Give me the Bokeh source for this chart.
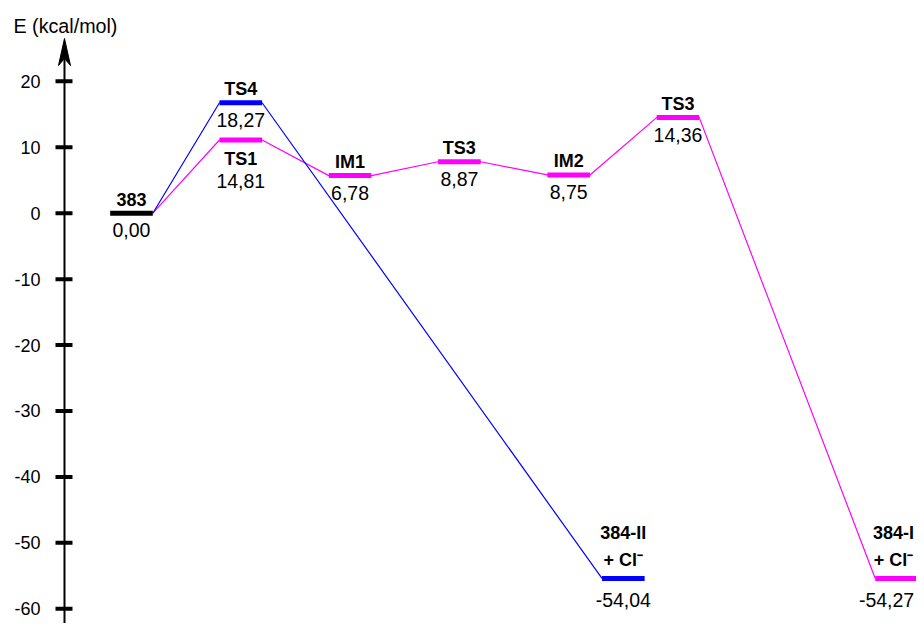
from bokeh.plotting import figure
from bokeh.models import Range1d
from bokeh.core.properties import value
from bokeh.embed import file_html
from bokeh.resources import INLINE

# ---------------- data ----------------
states = ["383", "TS4", "TS1", "IM1", "TS3", "IM2", "TS3", "384-II", "384-I"]
step = [0, 1, 1, 2, 3, 4, 5, 4.5, 7]
level = [0.0, 16.75, 11.1, 5.7, 7.8, 5.8, 14.5, -55.4, -55.4]
energy_labels = ["0,00", "18,27", "14,81", "6,78", "8,87", "8,75", "14,36", "-54,04", "-54,27"]
second_line = ["", "", "", "", "", "", "", "+ Cl\u207b", "+ Cl\u207b"]
bar_colors = ["#000000", "#0000FF", "#FF00FF", "#FF00FF", "#FF00FF", "#FF00FF", "#FF00FF", "#0000FF", "#FF00FF"]
placement = ["above", "above", "below", "above", "above", "above", "above", "stack", "stack"]
blue_path = [0, 1, 7]
magenta_path = [0, 2, 3, 4, 5, 6, 8]
y_ticks = [20, 10, 0, -10, -20, -30, -40, -50, -60]
axis_title = "E (kcal/mol)"

# ---------------- layout ----------------
W, H = 916, 623
X_START, X_END = -1.1985, 7.1825
Y_START, Y_END = -62.233, 32.262
PX_X = (X_END - X_START) / W   # data units per px
PX_Y = (Y_END - Y_START) / H
HW = 0.195                     # half bar width (data)
AXIS_X = -0.613
FONT = value("Liberation Sans")

p = figure(width=W, height=H, output_backend="svg", toolbar_location=None,
           x_range=Range1d(X_START, X_END), y_range=Range1d(Y_START, Y_END),
           min_border=0, outline_line_color=None,
           x_axis_location=None, y_axis_location=None)
p.xgrid.visible = False
p.ygrid.visible = False
p.background_fill_color = "white"
p.border_fill_color = "white"

# ---- axis ----
p.segment(x0=[AXIS_X], y0=[Y_START], x1=[AXIS_X], y1=[Y_END - 53 * PX_Y],
          line_color="black", line_width=2)
tip = Y_END - 38 * PX_Y
p.patch(x=[AXIS_X, AXIS_X - 6 * PX_X, AXIS_X, AXIS_X + 6 * PX_X],
        y=[tip, tip - 27 * PX_Y, tip - 20 * PX_Y, tip - 27 * PX_Y],
        fill_color="black", line_color="black", line_width=1)
p.segment(x0=[AXIS_X - 9 * PX_X] * len(y_ticks), y0=y_ticks,
          x1=[AXIS_X + 8 * PX_X] * len(y_ticks), y1=y_ticks,
          line_color="black", line_width=4, line_cap="butt")
p.text(x=[AXIS_X - 24 * PX_X] * len(y_ticks), y=y_ticks,
       text=[str(t) for t in y_ticks], text_align="right", text_baseline="middle",
       text_font=FONT, text_font_size="18px", text_color="black")
p.text(x=[X_START + 13 * PX_X], y=[Y_END - 25 * PX_Y], text=[axis_title],
       text_align="left", text_baseline="middle",
       text_font=FONT, text_font_size="19.7px", text_color="black")

# ---- connecting lines ----
def path_xy(path):
    xs, ys = [], []
    for a, b in zip(path[:-1], path[1:]):
        xs += [step[a] + HW, step[b] - HW]
        ys += [level[a], level[b]]
    return xs, ys

for path, col in ((magenta_path, "#FF00FF"), (blue_path, "#0000FF")):
    xs, ys = path_xy(path)
    p.line(xs, ys, line_color=col, line_width=1.2)

# ---- level bars ----
p.segment(x0=[s - HW for s in step], y0=level, x1=[s + HW for s in step], y1=level,
          line_color=bar_colors, line_width=5, line_cap="butt")

# ---- labels ----
name_off = {"above": -14, "below": 19, "stack": -45}
val_off = {"above": 17, "below": 41, "stack": 22}
# keep texts at the right edge inside the frame
name_shift = [-3 if s > X_END - 0.3 else 0 for s in step]
val_shift = [-10 if s > X_END - 0.3 else 0 for s in step]
p.text(x=step, y=level, text=states, y_offset=[name_off[k] for k in placement],
       x_offset=name_shift,
       text_align="center", text_baseline="middle", text_font=FONT,
       text_font_size="18px", text_font_style="bold", text_color="black")
p.text(x=step, y=level, text=second_line, y_offset=[-18 for k in placement],
       x_offset=name_shift,
       text_align="center", text_baseline="middle", text_font=FONT,
       text_font_size="18px", text_font_style="bold", text_color="black")
p.text(x=step, y=level, text=energy_labels, y_offset=[val_off[k] for k in placement],
       x_offset=val_shift,
       text_align="center", text_baseline="middle", text_font=FONT,
       text_font_size="19.5px", text_color="black")

open("out.html", "w").write(file_html(p, INLINE))
